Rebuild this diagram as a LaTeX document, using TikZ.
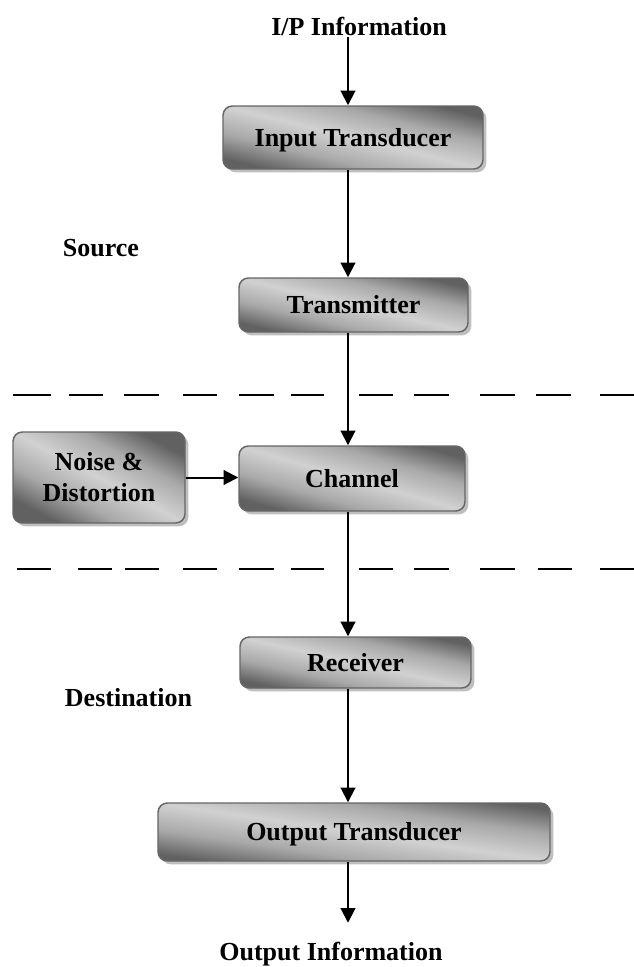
\documentclass[tikz,border=0pt]{standalone}
\usepackage{fontspec}
\setmainfont{Liberation Serif}
\usetikzlibrary{arrows.meta,shadows}
\pgfdeclareverticalshading{diagband}{100bp}{color(0bp)=(black!62); color(25bp)=(black!62); color(37bp)=(black!34); color(50bp)=(black!18); color(63bp)=(black!34); color(75bp)=(black!62); color(100bp)=(black!62)}
\begin{document}
\begin{tikzpicture}[x=0.75pt,y=-0.75pt,
  every node/.style={font=\fontsize{19.5}{23.25}\selectfont\bfseries},
  boxbase/.style={draw=black!60, line width=1.1pt, rounded corners=7pt, inner sep=0pt,
    shading=diagband,
    drop shadow={shadow xshift=2.5pt, shadow yshift=-2.5pt, fill=black!25, draw=none, opacity=1}},
  box/.style={boxbase, text height=13.65pt, text depth=0.8pt},
  arr/.style={line width=1.5pt, -{Triangle[length=11pt,width=11pt]}},
  sepline/.style={line width=1.5pt},
  lbl/.style={inner sep=0pt, anchor=base}
]
\useasboundingbox (0,0) rectangle (634,967);
\coordinate (ax) at (348,0);

% separators
\foreach \a/\b in {13/51,69/103,124/159,183/217,239/274,291/324,359/393,414/449,480/515,536/571,600/634}
  \draw[sepline] (\a,395) -- (\b,395);
\foreach \a/\b in {17/51,78/112,125/159,183/217,239/274,291/324,359/393,414/449,480/515,538/572,600/634}
  \draw[sepline] (\a,569) -- (\b,569);

% labels
\node[lbl] (ip) at (359,36) {I/P Information};
\node[lbl] (src) at (101,256) {Source};
\node[lbl] (dst) at (128.5,706) {Destination};
\node[lbl] (oi) at (331,960) {Output Information};

% boxes
\node[box, shading angle=-13.6, minimum width=195pt, minimum height=47.25pt] (it) at (353,137.5) {Input Transducer};
\node[box, shading angle=-13.3, minimum width=171.75pt, minimum height=40.5pt] (tx) at (353.5,305) {Transmitter};
\node[box, shading angle=-16, minimum width=169.5pt, minimum height=48.75pt] (ch) at (352,478.5) {Channel};
\node[boxbase, shading angle=-27.9, align=center, minimum width=129pt, minimum height=68.25pt] (nd) at (99,477.5) {Noise \&\\Distortion};
\node[box, shading angle=-12.5, minimum width=173.25pt, minimum height=38.25pt] (rx) at (355.5,662.5) {Receiver};
\node[box, shading angle=-8.4, minimum width=294pt, minimum height=43.5pt] (ot) at (354,832) {Output Transducer};

% connectors
\draw[arr] (ip.south -| ax) -- (it.north -| ax);
\draw[arr] (it.south -| ax) -- (tx.north -| ax);
\draw[arr] (tx.south -| ax) -- (ch.north -| ax);
\draw[arr] (ch.south -| ax) -- (rx.north -| ax);
\draw[arr] (rx.south -| ax) -- (ot.north -| ax);
\draw[arr, shorten >=14pt] (ot.south -| ax) -- (oi.north -| ax);
\draw[arr] (nd.east) -- (nd.east -| ch.west);
\end{tikzpicture}
\end{document}
